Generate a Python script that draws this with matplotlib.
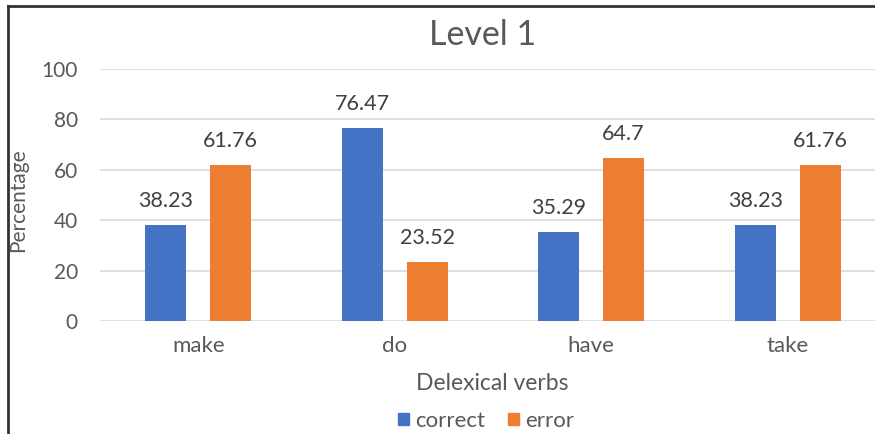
import matplotlib
matplotlib.use("Agg")
import matplotlib.pyplot as plt
import numpy as np
from matplotlib.lines import Line2D
from matplotlib.patches import Patch

categories = ["make", "do", "have", "take"]
correct = [38.23, 76.47, 35.29, 38.23]
error = [61.76, 23.52, 64.7, 61.76]
yticks = [0, 20, 40, 60, 80, 100]

BLUE = "#4472C4"
ORANGE = "#ED7D31"
TEXT = "#595959"
GRID = "#D9D9D9"

plt.rcParams["font.family"] = ["Lato", "DejaVu Sans"]

W, H = 875, 434
fig = plt.figure(figsize=(W / 100, H / 100), dpi=100)
ax = fig.add_axes([100 / W, 1 - 321 / H, 786 / W, (321 - 69) / H])

x = np.arange(len(categories))
bw = 0.21
off = 0.165
bc = ax.bar(x - off, correct, bw, color=BLUE, label="correct")
be = ax.bar(x + off, error, bw, color=ORANGE, label="error")

for bars, vals in ((bc, correct), (be, error)):
    for b, v in zip(bars, vals):
        ax.annotate(f"{v:g}", (b.get_x() + b.get_width() / 2, v),
                    xytext=(0, 10), textcoords="offset points",
                    ha="center", va="bottom", fontsize=15.5, color="#404040")

ax.set_xlim(-0.5, len(categories) - 0.5)
ax.set_ylim(0, 100)
ax.set_yticks(yticks)
ax.set_xticks(x)
ax.set_xticklabels(categories)
ax.tick_params(axis="both", length=0, labelsize=15, labelcolor=TEXT)
ax.tick_params(axis="x", labelsize=16, pad=11)
ax.tick_params(axis="y", pad=16)
ax.grid(axis="y", color=GRID, linewidth=1.2)
ax.set_axisbelow(True)
for s in ax.spines.values():
    s.set_visible(False)

fig.text(483 / W, 1 - 35 / H, "Level 1", ha="center", va="center",
         fontsize=24.5, color=TEXT)
fig.text(18 / W, 1 - 200 / H, "Percentage", ha="center", va="center",
         rotation=90, fontsize=15, color=TEXT)
fig.text(492 / W, 1 - 384 / H, "Delexical verbs", ha="center", va="center",
         fontsize=16.5, color=TEXT)

handles = [Patch(color=BLUE), Patch(color=ORANGE)]
fig.legend(handles, ["correct", "error"], loc="center",
           bbox_to_anchor=(486 / W, 1 - 421 / H), ncol=2, frameon=False,
           fontsize=16, labelcolor=TEXT, handlelength=0.5, handleheight=0.5,
           handletextpad=0.3, columnspacing=1.0)

# frame edges along the top and left
fig.add_artist(Line2D([8 / W, 8 / W], [0, 1 - 6 / H], color="#333333",
                      linewidth=2, transform=fig.transFigure))
fig.add_artist(Line2D([8 / W, 1], [1 - 6 / H, 1 - 6 / H], color="#333333",
                      linewidth=2, transform=fig.transFigure))

fig.savefig("out.png", dpi=100)
